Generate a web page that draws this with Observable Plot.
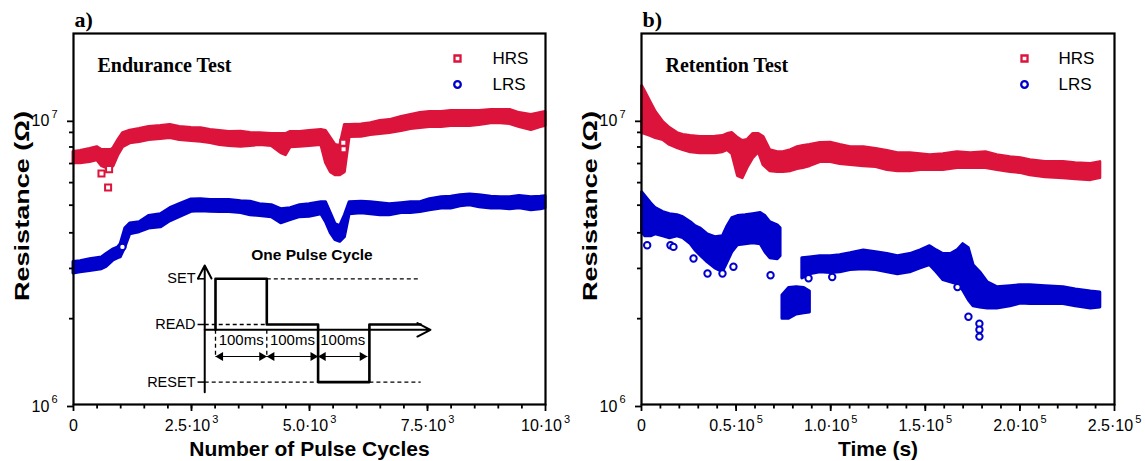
<!DOCTYPE html>
<html><head><meta charset="utf-8">
<script src="https://cdn.jsdelivr.net/npm/d3@7"></script>
<script src="https://cdn.jsdelivr.net/npm/@observablehq/plot@0.6"></script>
<style>
body{margin:0;background:#fff;}
#wrap{position:relative;width:1145px;height:461px;display:flex;overflow:hidden;}
#wrap svg{display:block;}
</style></head><body><div id="wrap"></div>
<script>
// ---------- DATA (resistance values in MΩ) ----------
// Panel a) Endurance test: band upper / lower edge of the measured points
const endHrsCycles = [0,150,350,500,600,700,800,850,950,1050,1200,1400,1600,1850,2050,2250,2500,2700,2900,3100,3300,3550,3750,3950,4200,4400,4500,4600,4800,5000,5250,5350,5450,5550,5650,5750,5850,6100,6300,6500,6700,6950,7150,7350,7550,7800,8000,8200,8400,8600,8850,9050,9250,9450,9700,9900,10000];
const endHrsHigh = [7.69,7.74,7.87,7.99,7.80,7.80,7.80,7.93,8.46,8.95,9.12,9.25,9.40,9.47,9.55,9.40,9.32,9.30,9.17,9.10,9.03,9.05,8.95,8.93,8.88,8.88,8.88,9.03,9.03,9.10,9.17,9.10,8.60,8.13,8.06,9.55,9.55,9.59,9.70,9.86,9.94,10.19,10.35,10.52,10.61,10.61,10.70,10.70,10.70,10.70,10.78,10.78,10.78,10.52,10.35,10.52,10.61];
const endHrsLow  = [7.01,7.02,7.08,7.19,6.85,6.75,6.75,6.85,7.49,7.99,8.24,8.32,8.46,8.53,8.60,8.46,8.39,8.34,8.26,8.13,8.06,8.01,8.06,8.13,8.06,7.61,7.49,7.99,8.01,8.06,8.13,7.02,6.53,6.37,6.37,6.53,8.67,8.69,8.81,8.88,8.95,9.10,9.25,9.32,9.40,9.40,9.47,9.47,9.47,9.55,9.68,9.68,9.63,9.40,9.17,9.40,9.47];
const endHrsOutCycles = [593,733,754,5716,5722];
const endHrsOutValues = [6.46,5.77,6.69,8.28,7.85];

const endLrsCycles = [0,150,350,600,700,850,950,1000,1100,1200,1400,1600,1850,2050,2250,2500,2700,2900,3100,3300,3550,3750,3950,4200,4400,4600,4800,5000,5250,5350,5450,5550,5650,5750,5850,6100,6300,6500,6700,6950,7150,7350,7550,7800,8000,8200,8400,8600,8850,9050,9250,9450,9700,9900,10000];
const endLrsHigh = [3.16,3.18,3.23,3.28,3.37,3.50,3.56,3.65,4.15,4.31,4.36,4.58,4.65,4.88,5.04,5.24,5.25,5.21,5.21,5.21,5.16,5.14,5.04,5.00,4.84,4.88,5.00,5.04,5.12,5.12,4.69,4.29,4.22,4.61,5.12,5.14,5.12,5.08,5.04,5.08,5.12,5.12,5.25,5.33,5.35,5.42,5.45,5.42,5.35,5.33,5.33,5.38,5.33,5.35,5.38];
const endLrsLow  = [2.88,2.91,2.94,2.98,3.04,3.20,3.26,3.28,3.56,3.95,4.02,4.14,4.18,4.39,4.54,4.74,4.76,4.74,4.73,4.73,4.69,4.61,4.58,4.54,4.32,4.43,4.54,4.55,4.65,4.36,3.99,3.77,3.72,3.86,4.65,4.68,4.65,4.61,4.61,4.69,4.69,4.73,4.80,4.87,4.87,4.96,5.00,4.92,4.87,4.87,4.84,4.88,4.80,4.84,4.88];
const endLrsOutCycles = [1037];
const endLrsOutValues = [3.57];

// Panel b) Retention test
const retHrsTime = [300,2000,5000,7500,11500,15000,19000,22000,26000,31000,35000,39000,43000,45500,48000,51000,53500,56000,59000,62000,64500,68000,72000,75000,79000,82500,85500,89000,94500,100000,105000,110500,117500,124000,130000,135500,142000,147500,152500,159500,167000,174000,182000,188000,195000,200500,205500,213500,223000,229500,237500,242500];
const retHrsHigh = [13.09,12.47,11.41,10.61,9.78,9.32,8.95,8.81,8.74,8.67,8.67,8.69,8.74,8.88,8.95,8.60,8.39,8.46,8.88,8.88,8.67,7.80,7.67,7.67,7.80,7.99,8.06,8.13,8.26,8.28,8.13,7.99,7.99,7.87,7.74,7.61,7.61,7.55,7.49,7.55,7.67,7.61,7.67,7.49,7.37,7.31,7.19,7.08,7.08,7.02,6.97,7.08];
const retHrsLow  = [8.95,8.88,8.74,8.60,8.46,8.13,7.93,7.80,7.67,7.61,7.61,7.61,7.67,7.80,7.55,6.32,6.22,6.75,7.31,7.67,6.91,6.58,6.53,6.53,6.58,6.69,6.75,6.85,7.08,7.08,6.97,6.91,6.85,6.80,6.64,6.58,6.58,6.64,6.64,6.64,6.75,6.75,6.75,6.64,6.53,6.48,6.37,6.27,6.22,6.17,6.12,6.22];

const retLrsATime = [300,2000,5000,7500,11500,15000,19000,22000,26000,28500,31000,35000,39000,43000,45500,48000,51000,55000,59000,63000,65500,68000,72000,73500];
const retLrsAHigh = [5.55,5.38,5.08,4.88,4.73,4.65,4.61,4.54,4.36,4.22,4.15,3.95,3.86,3.89,4.22,4.50,4.58,4.61,4.65,4.69,4.58,4.36,4.25,4.15];
const retLrsALow  = [4.02,3.89,3.89,3.95,3.89,3.83,3.89,3.83,3.65,3.47,3.34,3.15,3.00,2.91,3.15,3.42,3.62,3.65,3.68,3.65,3.42,3.26,3.23,3.31];
const retLrsBTime = [74500,78000,82000,86000,89000];
const retLrsBHigh = [2.41,2.56,2.58,2.56,2.49];
const retLrsBLow  = [2.00,2.00,2.07,2.09,2.10];
const retLrsCTime = [85000,89000,94500,100000,105000,110500,117500,124000,130000,135500,142000,147500,152500,156000,159500,163500,167000,170000,173000,175500,179000,183000,188000,195000,200500,205500,213500,223000,229500,237500,242500];
const retLrsCHigh = [3.26,3.28,3.31,3.31,3.34,3.39,3.47,3.42,3.37,3.31,3.37,3.47,3.59,3.47,3.37,3.37,3.47,3.65,3.53,3.08,2.91,2.68,2.58,2.60,2.62,2.62,2.60,2.58,2.53,2.49,2.47];
const retLrsCLow  = [2.77,2.86,2.91,2.89,2.91,2.96,2.98,2.96,2.91,2.86,2.91,3.00,3.08,2.91,2.73,2.68,2.64,2.51,2.32,2.21,2.19,2.17,2.17,2.21,2.26,2.25,2.25,2.25,2.21,2.17,2.19];
const retLrsOutTime   = [3000,15300,16900,27500,34900,42800,48600,68200,88300,100800,167000,172800,178600,178600,178600];
const retLrsOutValues = [3.62,3.62,3.57,3.25,2.88,2.88,3.04,2.84,2.77,2.80,2.58,2.03,1.92,1.83,1.73];

// Axis ticks
const endMajorX = [0,2500,5000,7500,10000];
const endMajorXLabels = ["0","2.5·10^3","5.0·10^3","7.5·10^3","10·10^3"];
const endMinorX = d3.range(500,10000,500);
const retMajorX = [0,50000,100000,150000,200000,250000];
const retMajorXLabels = ["0","0.5·10^5","1.0·10^5","1.5·10^5","2.0·10^5","2.5·10^5"];
const retMinorX = d3.range(10000,250000,10000);
const majorY = [1e6,1e7];
const majorYLabels = ["10^6","10^7"];
const minorY = [2e6,3e6,4e6,5e6,6e6,7e6,8e6,9e6];

// Inset (one pulse cycle): time in ms, level in arbitrary units
const pulseLevelNames = ["SET","READ","RESET"];
const pulseLevels = [1,0,-1.26];
const axisLevel = -0.116;
const waveT = [0,0,100,100,200,200,300,300,400];
const waveV = [axisLevel,1,1,0,0,-1.26,-1.26,0,0];
const spanStart = [0,100,200];
const spanEnd = [100,200,296];
const spanLabel = ["100ms","100ms","100ms"];

// ---------- HELPERS ----------
const HRS = "#DC143C", LRS = "#0000CD";
const SANS = "'Liberation Sans', Arial, Helvetica, sans-serif";
const SERIF = "'Liberation Serif', 'Times New Roman', serif";
const M = 1e6;
const band = (xs, hi, lo, seg) => xs.map((x, i) => ({x, hi: hi[i] * M, lo: lo[i] * M, seg}));
const pts = (xs, vs) => xs.map((x, i) => ({x, y: vs[i] * M}));

function supify(svg) {
  svg.querySelectorAll("text").forEach(t => {
    const s = t.textContent;
    if (s.includes("^")) {
      const [b, e] = s.split("^");
      t.textContent = b;
      const ts = document.createElementNS("http://www.w3.org/2000/svg", "tspan");
      ts.setAttribute("dy", "-0.75em");
      ts.setAttribute("dx", "2");
      ts.setAttribute("font-size", "11px");
      ts.textContent = e;
      t.appendChild(ts);
    }
  });
}
function stretch(svg, str, len) {
  svg.querySelectorAll("text").forEach(t => {
    if (t.textContent === str) {
      t.setAttribute("textLength", len);
      t.setAttribute("lengthAdjust", "spacingAndGlyphs");
    }
  });
}

function makePanel(o) {
  const marks = [];
  for (const b of o.bands)
    marks.push(Plot.areaY(b.data, {x: "x", y1: "lo", y2: "hi", z: "seg", fill: b.color, stroke: b.color, strokeWidth: 3, strokeLinejoin: "round"}));
  for (const p of o.points)
    marks.push(Plot.dot(p.data, {x: "x", y: "y", symbol: p.symbol, r: p.r, stroke: p.color, strokeWidth: 2, fill: "white"}));
  marks.push(
    Plot.axisX({ticks: o.minorX, tickSize: 4.5, tickFormat: () => "", label: null, strokeWidth: 1.8}),
    Plot.axisX({ticks: o.majorX, tickSize: 7, tickPadding: 8, label: null, strokeWidth: 1.8, fontSize: 16,
                tickFormat: d => o.majorXLabels[o.majorX.indexOf(d)]}),
    Plot.axisY({ticks: minorY, tickSize: 4, tickFormat: () => "", label: null, strokeWidth: 1.8}),
    Plot.axisY({ticks: majorY, tickSize: 6, tickPadding: 10, label: null, strokeWidth: 1.8, fontSize: 16, dy: 2,
                tickFormat: d => majorYLabels[majorY.indexOf(d)]}),
    Plot.frame({stroke: "black", strokeWidth: 2.2}),
    Plot.text([o.tag], {frameAnchor: "top-left", dx: 1, dy: -14, textAnchor: "start", lineAnchor: "middle", fontFamily: SERIF, fontWeight: "bold", fontSize: 22}),
    Plot.text([o.title], {frameAnchor: "top-left", dx: 24, dy: 32, textAnchor: "start", lineAnchor: "middle", fontFamily: SERIF, fontWeight: "bold", fontSize: 20}),
    Plot.dot([0], {frameAnchor: "top-right", dx: o.legendDotDx, dy: 25, symbol: "square", r: 3.4, stroke: HRS, strokeWidth: 2.3, fill: "white"}),
    Plot.dot([0], {frameAnchor: "top-right", dx: o.legendDotDx, dy: 51, symbol: "circle", r: 3.3, stroke: LRS, strokeWidth: 2.3, fill: "white"}),
    Plot.text(["HRS"], {frameAnchor: "top-right", dx: o.legendTextDx, dy: 25, textAnchor: "start", lineAnchor: "middle", fontSize: 17}),
    Plot.text(["LRS"], {frameAnchor: "top-right", dx: o.legendTextDx, dy: 51, textAnchor: "start", lineAnchor: "middle", fontSize: 17}),
    Plot.text([o.xLabel], {frameAnchor: "bottom", dy: 45, textAnchor: "middle", lineAnchor: "middle", fontWeight: "bold", fontSize: 21}),
    Plot.text(["Resistance (Ω)"], {frameAnchor: "left", dx: -51, dy: -13, rotate: -90, textAnchor: "middle", lineAnchor: "middle", fontWeight: "bold", fontSize: 21})
  );
  const svg = Plot.plot({
    width: o.width, height: 461,
    marginLeft: o.marginLeft, marginRight: o.marginRight, marginTop: 33, marginBottom: 57,
    x: {domain: o.xDomain, label: null},
    y: {type: "log", domain: [1e6, 2e7], label: null},
    style: {fontFamily: SANS, fontSize: "16px", background: "white", color: "black", overflow: "visible"},
    marks
  });
  supify(svg);
  stretch(svg, "Resistance (Ω)", 190);
  return svg;
}

// ---------- PANELS ----------
const left = makePanel({
  width: 572, marginLeft: 73, marginRight: 27, xDomain: [0, 10000],
  majorX: endMajorX, majorXLabels: endMajorXLabels, minorX: endMinorX,
  bands: [
    {data: band(endHrsCycles, endHrsHigh, endHrsLow, "h"), color: HRS},
    {data: band(endLrsCycles, endLrsHigh, endLrsLow, "l"), color: LRS}
  ],
  points: [
    {data: pts(endHrsOutCycles, endHrsOutValues), symbol: "square", r: 3.4, color: HRS},
    {data: pts(endLrsOutCycles, endLrsOutValues), symbol: "circle", r: 3.2, color: LRS}
  ],
  tag: "a)", title: "Endurance Test", xLabel: "Number of Pulse Cycles",
  legendDotDx: -88, legendTextDx: -53
});

const right = makePanel({
  width: 573, marginLeft: 69, marginRight: 31, xDomain: [0, 250000],
  majorX: retMajorX, majorXLabels: retMajorXLabels, minorX: retMinorX,
  bands: [
    {data: band(retHrsTime, retHrsHigh, retHrsLow, "h"), color: HRS},
    {data: [...band(retLrsATime, retLrsAHigh, retLrsALow, "a"),
            ...band(retLrsBTime, retLrsBHigh, retLrsBLow, "b"),
            ...band(retLrsCTime, retLrsCHigh, retLrsCLow, "c")], color: LRS}
  ],
  points: [
    {data: pts(retLrsOutTime, retLrsOutValues), symbol: "circle", r: 3.2, color: LRS}
  ],
  tag: "b)", title: "Retention Test", xLabel: "Time (s)",
  legendDotDx: -90, legendTextDx: -56
});

// ---------- INSET ----------
const levelRows = pulseLevels.map((v, i) => ({v, name: pulseLevelNames[i]}));
const spans = spanStart.map((s, i) => ({s, e: spanEnd[i], label: spanLabel[i], m: (s + spanEnd[i]) / 2}));
const arrowY = -0.70;
const dashed = [
  {x1: 100, x2: 400, y1: 1, y2: 1},
  {x1: -21, x2: 100, y1: 0, y2: 0},
  {x1: -21, x2: 200, y1: -1.26, y2: -1.26},
  {x1: 300, x2: 400, y1: -1.26, y2: -1.26},
  {x1: 0, x2: 0, y1: axisLevel, y2: -0.68},
  {x1: 100, x2: 100, y1: axisLevel, y2: -0.68}
];
const inset = Plot.plot({
  width: 310, height: 160, margin: 0,
  x: {domain: [-146.2, 458.1], axis: null},
  y: {domain: [-1.663, 1.838], axis: null},
  style: {background: "none", fontFamily: SANS, color: "black", overflow: "visible"},
  marks: [
    Plot.link(dashed, {x1: "x1", x2: "x2", y1: "y1", y2: "y2", stroke: "black", strokeWidth: 1.3, strokeDasharray: "4,3"}),
    Plot.link(levelRows, {x1: -35, x2: -21, y1: "v", y2: "v", stroke: "black", strokeWidth: 1.5}),
    Plot.arrow([0], {x1: -21, x2: -21, y1: -1.48, y2: 1.29, stroke: "black", strokeWidth: 2, headLength: 11, headAngle: 55}),
    Plot.arrow([0], {x1: -21, x2: 419, y1: axisLevel, y2: axisLevel, stroke: "black", strokeWidth: 2, headLength: 11, headAngle: 55}),
    Plot.line(waveT.map((t, i) => ({t, v: waveV[i]})), {x: "t", y: "v", stroke: "black", strokeWidth: 2.6}),
    Plot.link(spans, {x1: "s", x2: "e", y1: arrowY, y2: arrowY, stroke: "black", strokeWidth: 1.2}),
    Plot.dot(spans, {x: "s", y: arrowY, symbol: "triangle", r: 3.3, fill: "black", rotate: -90, dx: 5}),
    Plot.dot(spans, {x: "e", y: arrowY, symbol: "triangle", r: 3.3, fill: "black", rotate: 90, dx: -5}),
    Plot.text(spans, {x: "m", y: -0.35, text: "label", fontSize: 15}),
    Plot.text(levelRows, {x: -39, y: "v", text: "name", textAnchor: "end", fontSize: 14.5}),
    Plot.text(["One Pulse Cycle"], {x: 188, y: 1.51, fontWeight: "bold", fontSize: 15.5})
  ]
});
inset.style.position = "absolute";
inset.style.left = "140px";
inset.style.top = "240px";
inset.style.width = "310px";

const wrap = document.getElementById("wrap");
wrap.appendChild(left);
wrap.appendChild(right);
wrap.appendChild(inset);
</script></body></html>
